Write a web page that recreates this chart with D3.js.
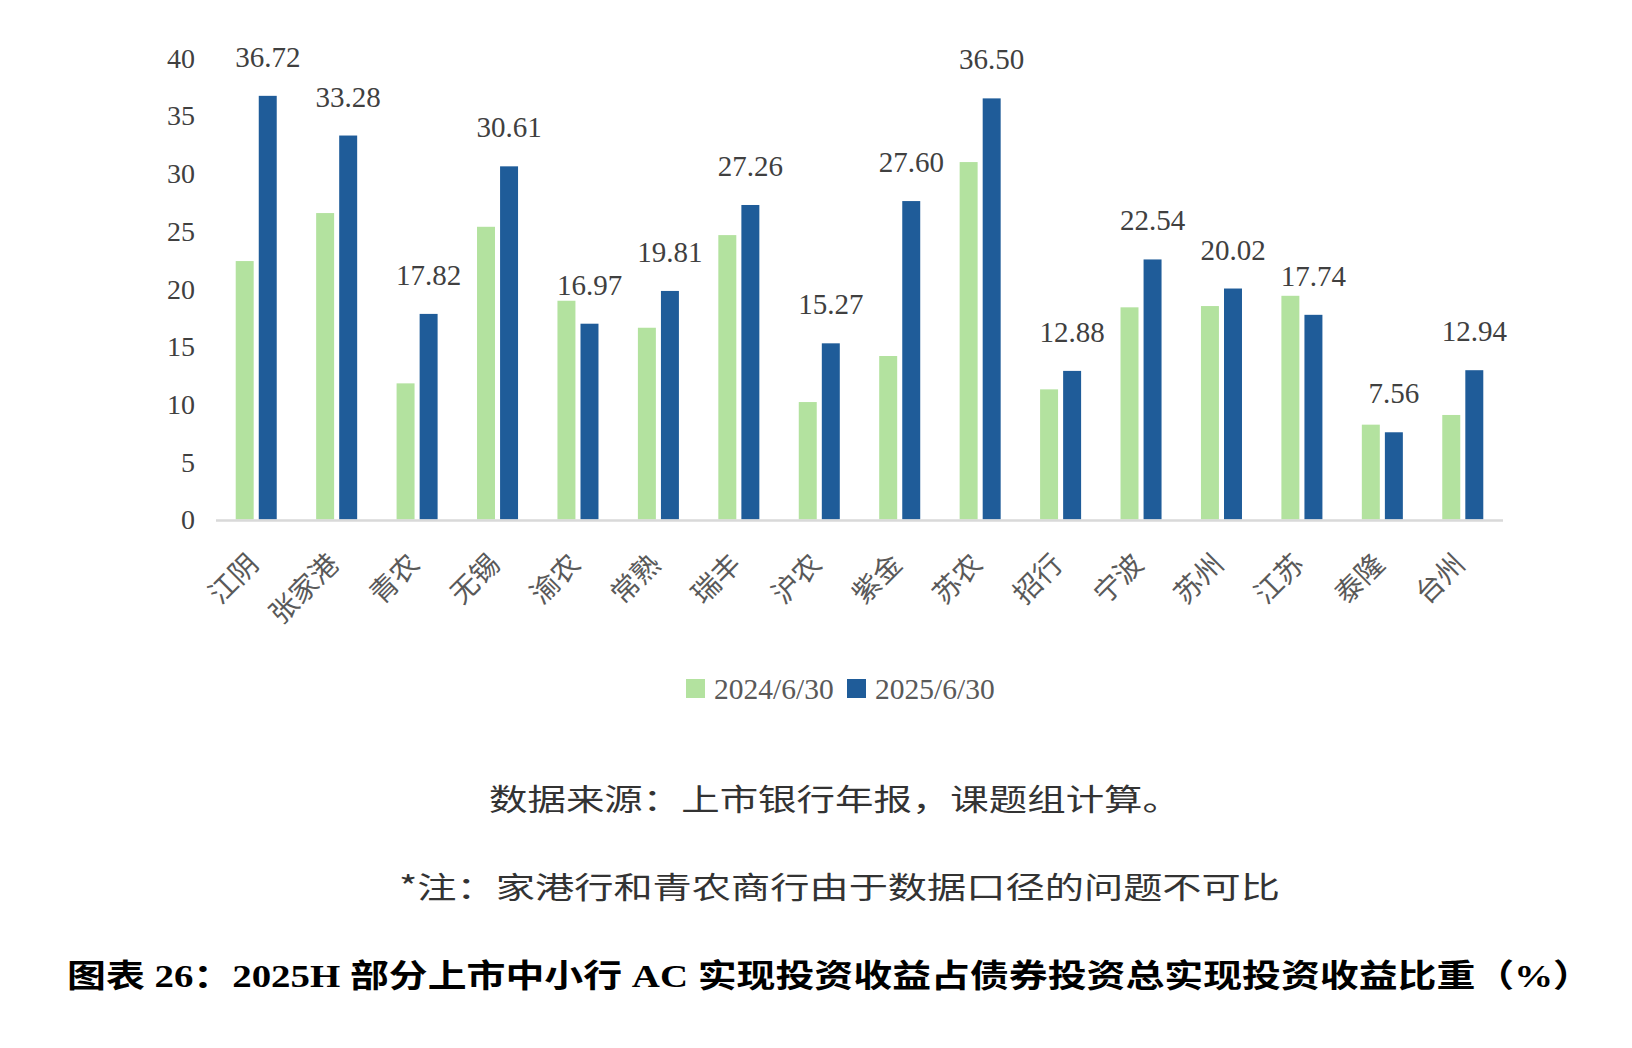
<html>
<head>
<meta charset="utf-8">
<script src="https://d3js.org/d3.v7.min.js"></script>
<style>
body { margin: 0; background: #fff; }
svg { display: block; }
text { font-family: "Liberation Serif", "Noto Sans CJK SC", serif; }
.cjk { font-family: "Noto Sans CJK SC", sans-serif; }
</style>
</head>
<body>
<div id="chart"></div>
<script>

// data
var banks = ["江阴", "张家港", "青农", "无锡", "渝农", "常熟", "瑞丰", "沪农", "紫金", "苏农", "招行", "宁波", "苏州", "江苏", "泰隆", "台州"];
var seriesNames = ["2024/6/30", "2025/6/30"];
var v2024 = [22.4, 26.56, 11.8, 25.37, 18.96, 16.62, 24.65, 10.18, 14.17, 30.98, 11.28, 18.39, 18.5, 19.39, 8.22, 9.06];
var v2025 = [36.72, 33.28, 17.82, 30.61, 16.97, 19.81, 27.26, 15.27, 27.60, 36.50, 12.88, 22.54, 20.02, 17.74, 7.56, 12.94];
var yTicks = [0, 5, 10, 15, 20, 25, 30, 35, 40];

var sourceText = "数据来源：上市银行年报，课题组计算。";
var noteText = "*注：家港行和青农商行由于数据口径的问题不可比";
var titleText = "图表 26：2025H 部分上市中小行 AC 实现投资收益占债券投资总实现投资收益比重（%）";

var colors = ["#b3e29f", "#1f5c99"];

var width = 1632, height = 1048;
var svg = d3.select("#chart").append("svg").attr("width", width).attr("height", height);
svg.append("rect").attr("width", width).attr("height", height).attr("fill", "#fff");

var x0 = d3.scaleBand().domain(banks).range([216, 1503]).paddingInner(0.49).paddingOuter(0.245);
var x1 = d3.scaleBand().domain(seriesNames).range([0, x0.bandwidth()]).paddingInner(0.22);
var y = d3.scaleLinear().domain([0, 40]).range([519.5, 58]);

var rows = banks.map(function(b, i) {
  return { bank: b, vals: [v2024[i], v2025[i]] };
});

// y tick labels (no axis line, no gridlines)
svg.selectAll(".ytick").data(yTicks).enter().append("text")
  .attr("x", 195)
  .attr("y", d => y(d))
  .attr("dy", "0.35em")
  .attr("text-anchor", "end")
  .style("font-size", "28px")
  .attr("fill", "#404040")
  .text(d => d);

// bars
var groups = svg.selectAll(".grp").data(rows).enter().append("g")
  .attr("transform", d => "translate(" + x0(d.bank) + ",0)");

groups.selectAll("rect")
  .data(d => d.vals.map((v, k) => ({ key: seriesNames[k], v: v, k: k })))
  .enter().append("rect")
  .attr("x", d => x1(d.key))
  .attr("width", x1.bandwidth())
  .attr("y", d => y(d.v))
  .attr("height", d => y(0) - y(d.v))
  .attr("fill", d => colors[d.k]);

// data labels on 2025 bars only
groups.append("text")
  .attr("x", x1(seriesNames[1]) + x1.bandwidth() / 2)
  .attr("y", d => y(d.vals[1]) - 29)
  .attr("text-anchor", "middle")
  .style("font-size", "29px")
  .attr("fill", "#404040")
  .text(d => d3.format(".2f")(d.vals[1]));

// baseline
svg.append("line")
  .attr("x1", 216).attr("x2", 1503)
  .attr("y1", y(0) + 1).attr("y2", y(0) + 1)
  .attr("stroke", "#d9d9d9").attr("stroke-width", 2.5);

// category labels, rotated
svg.selectAll(".xlab").data(banks).enter().append("text")
  .attr("class", "cjk")
  .attr("text-anchor", "end")
  .attr("transform", d => "translate(" + (x0(d) + x0.bandwidth() / 2 + 4) + "," + 566 + ") rotate(-45)")
  .style("font-size", "28px")
  .attr("fill", "#595959")
  .text(d => d);

// legend
var legend = svg.append("g");
var legX = [686, 847];
seriesNames.forEach(function(s, k) {
  legend.append("rect")
    .attr("x", legX[k]).attr("y", 679)
    .attr("width", 19).attr("height", 19)
    .attr("fill", colors[k]);
  legend.append("text")
    .attr("x", legX[k] + 28).attr("y", 689)
    .attr("dy", "0.35em")
    .style("font-size", "29.5px")
    .attr("fill", "#595959")
    .text(s);
});

// source, note and title
svg.append("text").attr("class", "cjk")
  .attr("x", 489).attr("y", 799).attr("dy", "0.35em")
  .attr("textLength", 692).attr("lengthAdjust", "spacingAndGlyphs")
  .style("font-size", "30px").attr("fill", "#333")
  .text(sourceText);

svg.append("text").attr("class", "cjk")
  .attr("x", 399).attr("y", 887).attr("dy", "0.35em")
  .attr("textLength", 881).attr("lengthAdjust", "spacingAndGlyphs")
  .style("font-size", "30px").attr("fill", "#333")
  .text(noteText);

svg.append("text")
  .attr("x", 67).attr("y", 976).attr("dy", "0.35em")
  .attr("textLength", 1525).attr("lengthAdjust", "spacingAndGlyphs")
  .style("font-size", "32px").style("font-weight", "bold").attr("fill", "#000")
  .text(titleText);

</script>
</body>
</html>
